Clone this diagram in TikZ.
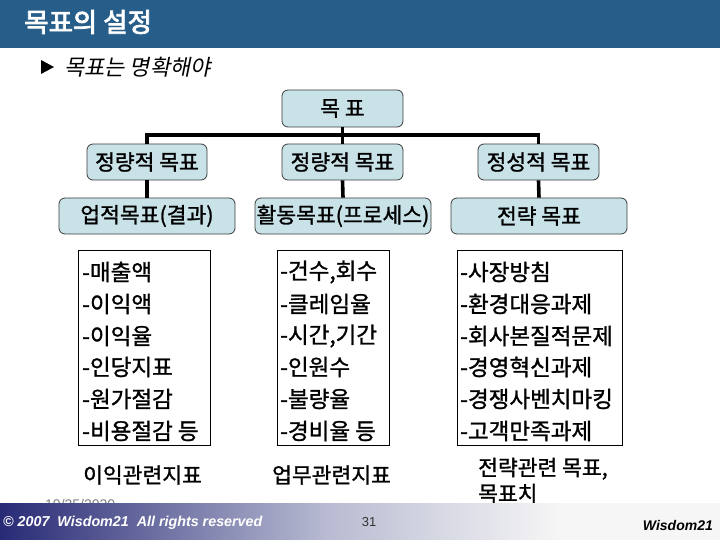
\documentclass[tikz,border=0pt]{standalone}
\usepackage{fontspec}
\setmainfont{Liberation Sans}
\newfontfamily\kr{Noto Sans CJK KR}[FakeBold=1.2]
\newfontfamily\krb{Noto Sans CJK KR}[FakeBold=3]
\newfontfamily\krit{Noto Sans CJK KR}[FakeSlant=0.2]
\definecolor{titlebar}{RGB}{39,93,137}
\definecolor{boxfill}{RGB}{200,226,232}
\definecolor{boxline}{RGB}{60,60,60}
\definecolor{footdark}{RGB}{40,42,118}
\definecolor{footmid}{RGB}{185,188,210}
\definecolor{footlight}{RGB}{246,246,246}
\begin{document}
\begin{tikzpicture}[x=1pt,y=-1pt,
  goalbox/.style={draw=boxline,line width=0.8pt,fill=boxfill,rounded corners=6pt,
    inner sep=0pt,font=\kr\fontsize{21.5}{23}\selectfont},
  listbox/.style={draw=black,line width=0.8pt,fill=white,inner sep=0pt},
  listtxt/.style={anchor=west,inner sep=0pt,font=\kr\fontsize{22.5}{24}\selectfont},
  labtxt/.style={anchor=west,inner sep=0pt,font=\kr\fontsize{21.5}{26}\selectfont},
  conn/.style={line width=3.6pt,black}]
\useasboundingbox (0,0) rectangle (720,540);
\fill[white] (0,0) rectangle (720,540);
% title bar
\fill[titlebar] (0,0) rectangle (720,48);
\node[anchor=west,inner sep=0pt,text=white,font=\krb\fontsize{26.5}{28}\selectfont] (title) at (24,22) {목표의 설정};
% bullet line
\fill[black] (41,60) -- (54,67) -- (41,74) -- cycle;
\node[anchor=west,inner sep=0pt,font=\krit\fontsize{22}{24}\selectfont] (sub) at (64,67) {목표는 명확해야};
% boxes
\node[goalbox,minimum width=121pt,minimum height=37pt] (top) at (342.5,108.5) {목 표};
\node[goalbox,minimum width=120pt,minimum height=36pt] (L1) at (147,162) {정량적 목표};
\node[goalbox,minimum width=121pt,minimum height=36pt] (M1) at (342.5,162) {정량적 목표};
\node[goalbox,minimum width=121pt,minimum height=36pt] (R1) at (538.5,162) {정성적 목표};
\node[goalbox,minimum width=176pt,minimum height=36pt] (L2) at (147,216) {업적목표(결과)};
\node[goalbox,minimum width=176pt,minimum height=36pt] (M2) at (343,216) {활동목표(프로세스)};
\node[goalbox,minimum width=176pt,minimum height=36pt] (R2) at (539,216) {전략 목표};
% connectors
\coordinate (bar) at (0,135);
\draw[conn] (top.south) -- (top.south |- bar);
\draw[conn] (L1.north) -- (L1.north |- bar) -- (R1.north |- bar) -- (R1.north);
\draw[conn] (M1.north |- bar) -- (M1.north);
\draw[conn] (L1.south) -- (L2.north);
\draw[conn] (M1.south) -- (M2.north);
\draw[conn] (R1.south) -- (R2.north);
% list boxes
\node[listbox,minimum width=132pt,minimum height=195pt] (L3) at (144,347.5) {};
\node[listbox,minimum width=112pt,minimum height=195pt] (M3) at (333,347.5) {};
\node[listbox,minimum width=165pt,minimum height=195pt] (R3) at (539.5,347.5) {};
% list texts
\node[listtxt] (la) at (82,272) {-매출액};
\node[listtxt] (lb) at (82,304) {-이익액};
\node[listtxt] (lc) at (82,336) {-이익율};
\node[listtxt] (ld) at (82,367) {-인당지표};
\node[listtxt] (le) at (82,399) {-원가절감};
\node[listtxt] (lf) at (82,431) {-비용절감 등};
\node[listtxt] (ma) at (280,272) {-건수,회수};
\node[listtxt] (mb) at (280,304) {-클레임율};
\node[listtxt] (mc) at (280,336) {-시간,기간};
\node[listtxt] (md) at (280,367) {-인원수};
\node[listtxt] (me) at (280,399) {-불량율};
\node[listtxt] (mf) at (280,431) {-경비율 등};
\node[listtxt] (ra) at (460,272) {-사장방침};
\node[listtxt] (rb) at (460,304) {-환경대응과제};
\node[listtxt] (rc) at (460,336) {-회사본질적문제};
\node[listtxt] (rd) at (460,367) {-경영혁신과제};
\node[listtxt] (re) at (460,399) {-경쟁사벤치마킹};
\node[listtxt] (rf) at (460,431) {-고객만족과제};
% bottom labels
\node[labtxt] (bl) at (83,475) {이익관련지표};
\node[labtxt] (bm) at (272,475) {업무관련지표};
\node[labtxt,align=left] (br) at (478,480.5) {전략관련 목표,\\목표치};
% date (partly hidden)
\node[anchor=west,inner sep=0pt,text=gray,font=\fontsize{14}{16}\selectfont] (date) at (45,504) {10/25/2020};
% footer
\shade[left color=footdark,right color=footmid] (0,503) rectangle (330,540);
\shade[left color=footmid,right color=footlight] (329.5,503) rectangle (560,540);
\fill[footlight] (559.5,503) rectangle (720,540);
\node[anchor=west,inner sep=0pt,text=white,font=\bfseries\itshape\fontsize{14.3}{16}\selectfont] (copy) at (3,523) {© 2007~ Wisdom21~ All rights reserved};
\node[inner sep=0pt,text=black!80,font=\fontsize{13}{15}\selectfont] (page) at (369,522) {31};
\node[anchor=east,inner sep=0pt,text=black,font=\bfseries\itshape\fontsize{14}{16}\selectfont] (brand) at (713,525) {Wisdom21};
\end{tikzpicture}
\end{document}
